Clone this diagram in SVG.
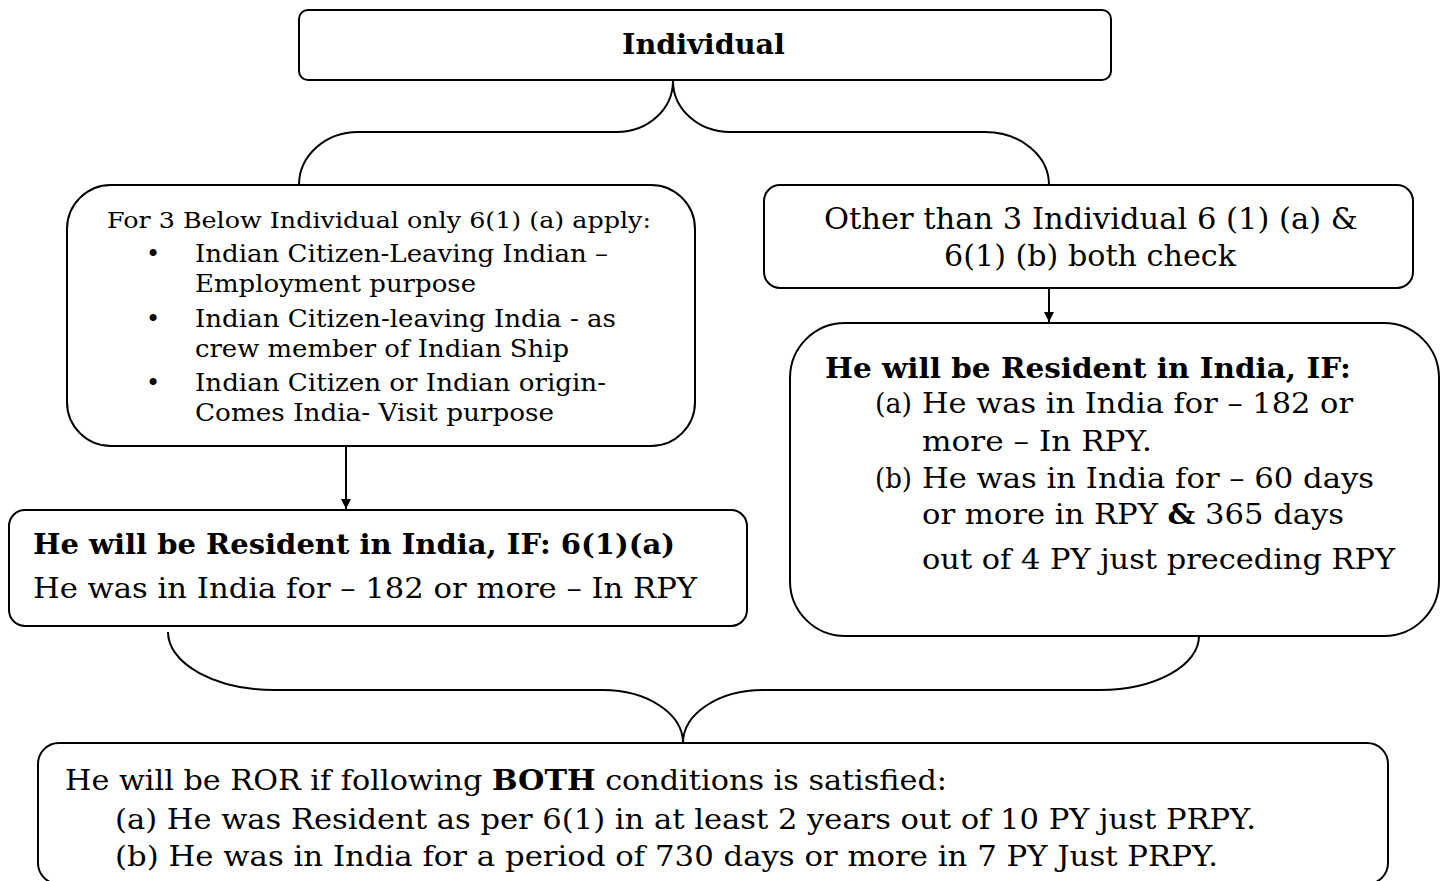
<svg xmlns="http://www.w3.org/2000/svg" width="1443" height="881" viewBox="0 0 1443 881">
<defs>
<marker id="arr" viewBox="0 0 10 10" refX="10" refY="5" markerWidth="10" markerHeight="10" markerUnits="userSpaceOnUse" orient="auto">
<path d="M0,0 L10,5 L0,10 z" fill="#000"/>
</marker>
<style>
.box{fill:#fff;stroke:#000;stroke-width:2}
.con{fill:none;stroke:#000;stroke-width:2}
text{font-family:"DejaVu Serif","Liberation Serif",serif;fill:#000}
.b{font-weight:bold}
</style>
</defs>
<rect width="1443" height="881" fill="#fff"/>
<g id="connectors">
<path class="con" d="M673,81 A56,51 0 0 1 617,132 L358,132 A59,53 0 0 0 299,185"/>
<path class="con" d="M673,81 A57,51 0 0 0 730,132 L985,132 A64,53 0 0 1 1049,185"/>
<line class="con" x1="346" y1="446" x2="346" y2="509" marker-end="url(#arr)"/>
<line class="con" x1="1049" y1="288" x2="1049" y2="322" marker-end="url(#arr)"/>
<path class="con" d="M168,632 A107,58 0 0 0 275,690 L603,690 A80,53 0 0 1 683,743 A80,53 0 0 1 763,690 L1100,690 A99,54 0 0 0 1199,636"/>
</g>
<g id="individual">
<rect class="box" x="299" y="10" width="812" height="70" rx="9"/>
<text class="b" x="622" y="54" font-size="28" textLength="163" lengthAdjust="spacingAndGlyphs">Individual</text>
</g>
<g id="three-individuals">
<rect class="box" x="67" y="185" width="628" height="261" rx="44"/>
<text x="107" y="228" font-size="22" textLength="544" lengthAdjust="spacingAndGlyphs">For 3 Below Individual only 6(1) (a) apply:</text>
<g font-size="24">
<text x="153" y="262" text-anchor="middle">•</text>
<text x="195" y="262" textLength="413" lengthAdjust="spacingAndGlyphs">Indian Citizen-Leaving Indian –</text>
<text x="195" y="292" textLength="281" lengthAdjust="spacingAndGlyphs">Employment purpose</text>
<text x="153" y="327" text-anchor="middle">•</text>
<text x="195" y="327" textLength="421" lengthAdjust="spacingAndGlyphs">Indian Citizen-leaving India - as</text>
<text x="195" y="357" textLength="374" lengthAdjust="spacingAndGlyphs">crew member of Indian Ship</text>
<text x="153" y="391" text-anchor="middle">•</text>
<text x="195" y="391" textLength="411" lengthAdjust="spacingAndGlyphs">Indian Citizen or Indian origin-</text>
<text x="195" y="421" textLength="359" lengthAdjust="spacingAndGlyphs">Comes India- Visit purpose</text>
</g>
</g>
<g id="other-individuals">
<rect class="box" x="764" y="185" width="649" height="103" rx="16"/>
<text x="824" y="229" font-size="29" textLength="534" lengthAdjust="spacingAndGlyphs">Other than 3 Individual 6 (1) (a) &amp;</text>
<text x="944" y="266" font-size="29" textLength="292" lengthAdjust="spacingAndGlyphs">6(1) (b) both check</text>
</g>
<g id="resident-6-1-a">
<rect class="box" x="9" y="510" width="738" height="116" rx="16"/>
<text class="b" x="33" y="554" font-size="28" textLength="642" lengthAdjust="spacingAndGlyphs">He will be Resident in India, IF: 6(1)(a)</text>
<text x="33" y="598" font-size="28" textLength="664" lengthAdjust="spacingAndGlyphs">He was in India for – 182 or more – In RPY</text>
</g>
<g id="resident-6-1-b">
<rect class="box" x="790" y="323" width="649" height="313" rx="55"/>
<text class="b" x="825" y="378" font-size="28" textLength="526" lengthAdjust="spacingAndGlyphs">He will be Resident in India, IF:</text>
<g font-size="27">
<text x="875" y="413" textLength="37" lengthAdjust="spacingAndGlyphs">(a)</text>
<text x="922" y="413" textLength="431" lengthAdjust="spacingAndGlyphs">He was in India for – 182 or</text>
<text x="922" y="451" textLength="230" lengthAdjust="spacingAndGlyphs">more – In RPY.</text>
<text x="875" y="488" textLength="37" lengthAdjust="spacingAndGlyphs">(b)</text>
<text x="922" y="488" textLength="452" lengthAdjust="spacingAndGlyphs">He was in India for – 60 days</text>
<text x="922" y="524" textLength="422" lengthAdjust="spacingAndGlyphs">or more in RPY <tspan class="b">&amp;</tspan> 365 days</text>
<text x="922" y="569" textLength="473" lengthAdjust="spacingAndGlyphs">out of 4 PY just preceding RPY</text>
</g>
</g>
<g id="ror">
<rect class="box" x="38" y="743" width="1350" height="141" rx="21"/>
<g font-size="27">
<text x="65" y="790" textLength="882" lengthAdjust="spacingAndGlyphs">He will be ROR if following <tspan class="b">BOTH</tspan> conditions is satisfied:</text>
<text x="115" y="829" textLength="1141" lengthAdjust="spacingAndGlyphs">(a) He was Resident as per 6(1) in at least 2 years out of 10 PY just PRPY.</text>
<text x="115" y="866" textLength="1103" lengthAdjust="spacingAndGlyphs">(b) He was in India for a period of 730 days or more in 7 PY Just PRPY.</text>
</g>
</g>
</svg>
